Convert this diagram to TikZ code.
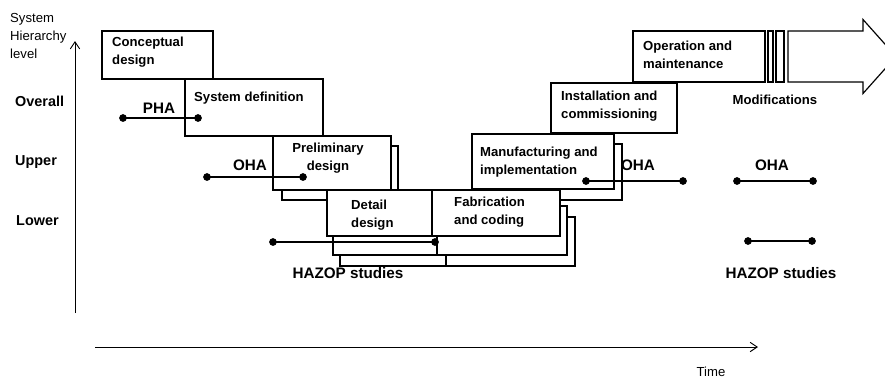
\documentclass[tikz,border=0pt]{standalone}
\usepackage{fontspec}
\setmainfont{Liberation Sans}
\usetikzlibrary{arrows.meta}
\usetikzlibrary{positioning}

\begin{document}
\begin{tikzpicture}[x=0.03cm,y=-0.03cm,
  box/.style={draw=black,fill=white,line width=1pt},
  boxtext/.style={font=\fontsize{11.2}{15.3}\selectfont\bfseries,align=left,inner sep=0pt,anchor=west},
  level/.style={font=\fontsize{12.3}{14}\selectfont\bfseries,inner sep=0pt,anchor=west},
  study/.style={font=\fontsize{13}{15}\selectfont\bfseries,inner sep=0pt},
  plain/.style={font=\fontsize{11.2}{15.3}\selectfont,inner sep=0pt},
  dotline/.style={line width=1.6pt},
  axis/.style={line width=0.8pt,-{Straight Barb[length=6pt,width=8pt]}}]
\useasboundingbox (0,0) rectangle (885,380);

% axes
\coordinate (ybot) at (75,313);
\coordinate (ytop) at (75,41);
\draw[axis] (ybot) -- (ytop);
\coordinate (xleft) at (95,347);
\coordinate (xright) at (758,347);
\draw[axis] (xleft) -- (xright);
\node[plain,anchor=west,align=left] (syslevel) at (10,36) {System\\Hierarchy\\level};
\node[plain] (time) at (711,372) {Time};
\node[level] (overall) at (15,101) {Overall};
\node[level] (upper) at (15,162) {Upper};
\node[level] (lower) at (16,221) {Lower};

% shadows
\draw[box] (282,146) rectangle (398,200);
\draw[box] (340,202) rectangle (446,266);
\draw[box] (446,217) rectangle (575,266);
\draw[box] (333,196) rectangle (437,255);
\draw[box] (437,206) rectangle (567,255);
\draw[box] (480,144) rectangle (622,200);

% phases
\draw[box] (102,31) rectangle (213,79);
\draw[box] (185,79) rectangle (323,136);
\draw[box] (273,136) rectangle (391,190);
\draw[box] (327,190) rectangle (432,236);
\draw[box] (432,190) rectangle (560,236);
\draw[box] (472,134) rectangle (614,189);
\draw[box] (551,83) rectangle (677,133);
\draw[box] (633,31) rectangle (765,82);
\draw[box] (768,31) rectangle (773,82);
\draw[box] (776,31) rectangle (784,82);
\draw[box] (788,31) -- (863,31) -- (863,19.5) -- (896,56.5) -- (863,93.5) -- (863,82) -- (788,82) -- cycle;

\node[boxtext] (concept) at (112,52) {Conceptual\\design};
\node[boxtext] (sysdef) at (194,98) {System definition};
\node[boxtext,anchor=center,align=center] (prelim) at (328,158.5) {Preliminary\\design};
\node[boxtext] (detail) at (351,215.5) {Detail\\design};
\node[boxtext] (fabric) at (454,212) {Fabrication\\and coding};
\node[boxtext] (manuf) at (480,162.5) {Manufacturing and\\implementation};
\node[boxtext] (install) at (561,106) {Installation and\\commissioning};
\node[boxtext] (operat) at (643,54.5) {Operation and\\maintenance};
\node[boxtext,anchor=center] (modif) at (775,100) {Modifications};

% studies
\coordinate (pha1) at (123,118);
\coordinate (pha2) at (198,118);
\coordinate (oha1) at (207,177);
\coordinate (oha2) at (303,177);
\coordinate (haz1) at (273,242);
\coordinate (haz2) at (435,242);
\coordinate (oha3) at (586,181);
\coordinate (oha4) at (683,181);
\coordinate (oha5) at (737,181);
\coordinate (oha6) at (813,181);
\coordinate (haz3) at (748,241);
\coordinate (haz4) at (812,241);
\draw[dotline] (pha1) -- (pha2);
\draw[dotline] (oha1) -- (oha2);
\draw[dotline] (haz1) -- (haz2);
\draw[dotline] (oha3) -- (oha4);
\draw[dotline] (oha5) -- (oha6);
\draw[dotline] (haz3) -- (haz4);
\foreach \p in {pha1,pha2,oha1,oha2,haz1,haz2,oha3,oha4,oha5,oha6,haz3,haz4}
  \fill (\p) circle[radius=3.3pt];

\node[study] (pha) at (159,108) {PHA};
\node[study] (ohaA) at (250,165) {OHA};
\node[study] (ohaB) at (638,165) {OHA};
\node[study] (ohaC) at (772,165) {OHA};
\node[study] (hazopA) at (348,273) {HAZOP studies};
\node[study] (hazopB) at (781,273) {HAZOP studies};

\end{tikzpicture}
\end{document}
